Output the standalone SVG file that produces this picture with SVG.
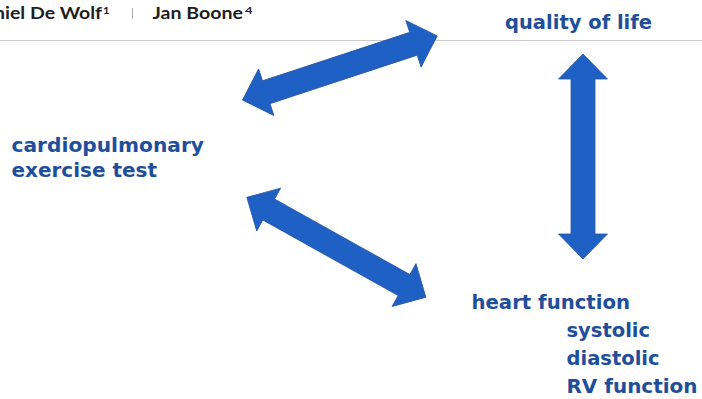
<svg xmlns="http://www.w3.org/2000/svg" width="702" height="399" viewBox="0 0 702 399">
<defs>
<style>
.hdr{font-family:Lato,"Liberation Sans",sans-serif;font-weight:bold;font-size:17.5px;fill:#1e1e1e}
.sup{font-family:Lato,"Liberation Sans",sans-serif;font-weight:bold;font-size:10px;fill:#1e1e1e}
.lbl{font-family:"DejaVu Sans","Liberation Sans",sans-serif;font-weight:bold;font-size:19.5px;fill:#1f4e9a}
.arr{fill:#1f60c4;stroke:#2a55a0;stroke-width:0.8}
</style>
<polygon id="dbl" class="arr" points="-102.5,0 -77.5,-24.5 -77.5,-12 77.5,-12 77.5,-24.5 102.5,0 77.5,24.5 77.5,12 -77.5,12 -77.5,24.5"/>
</defs>
<rect width="702" height="399" fill="#fff"/>
<g id="header">
<line x1="0" y1="40.5" x2="702" y2="40.5" stroke="#cccccc" stroke-width="1"/>
<text class="hdr" x="-6" y="18.5" textLength="108" lengthAdjust="spacingAndGlyphs">niel De Wolf</text>
<text class="sup" x="103" y="13.5" textLength="6.5" lengthAdjust="spacingAndGlyphs">1</text>
<line x1="132.5" y1="8" x2="132.5" y2="19" stroke="#aaa" stroke-width="1"/>
<text class="hdr" x="152.5" y="18.5" textLength="90.5" lengthAdjust="spacingAndGlyphs">Jan Boone</text>
<text class="sup" x="245" y="13.5" textLength="7.5" lengthAdjust="spacingAndGlyphs">4</text>
</g>
<g id="connectors">
<use href="#dbl" transform="translate(339.85,68) rotate(-18.23)"/>
<use href="#dbl" transform="translate(336.35,247.3) rotate(29.15)"/>
<use href="#dbl" transform="translate(583,156.5) rotate(90)"/>
</g>
<g id="qol"><text class="lbl" x="505" y="29" textLength="147" lengthAdjust="spacingAndGlyphs">quality of life</text></g>
<g id="cpet"><text class="lbl" x="11.5" y="152" textLength="192.5" lengthAdjust="spacingAndGlyphs">cardiopulmonary</text><text class="lbl" x="11.5" y="177" textLength="145.5" lengthAdjust="spacingAndGlyphs">exercise test</text></g>
<g id="heart">
<text class="lbl" x="471.5" y="309" textLength="158.5" lengthAdjust="spacingAndGlyphs">heart function</text>
<text class="lbl" x="566.5" y="337">systolic</text>
<text class="lbl" x="566.5" y="365">diastolic</text>
<text class="lbl" x="566.5" y="393" textLength="131" lengthAdjust="spacingAndGlyphs">RV function</text>
</g>
</svg>
